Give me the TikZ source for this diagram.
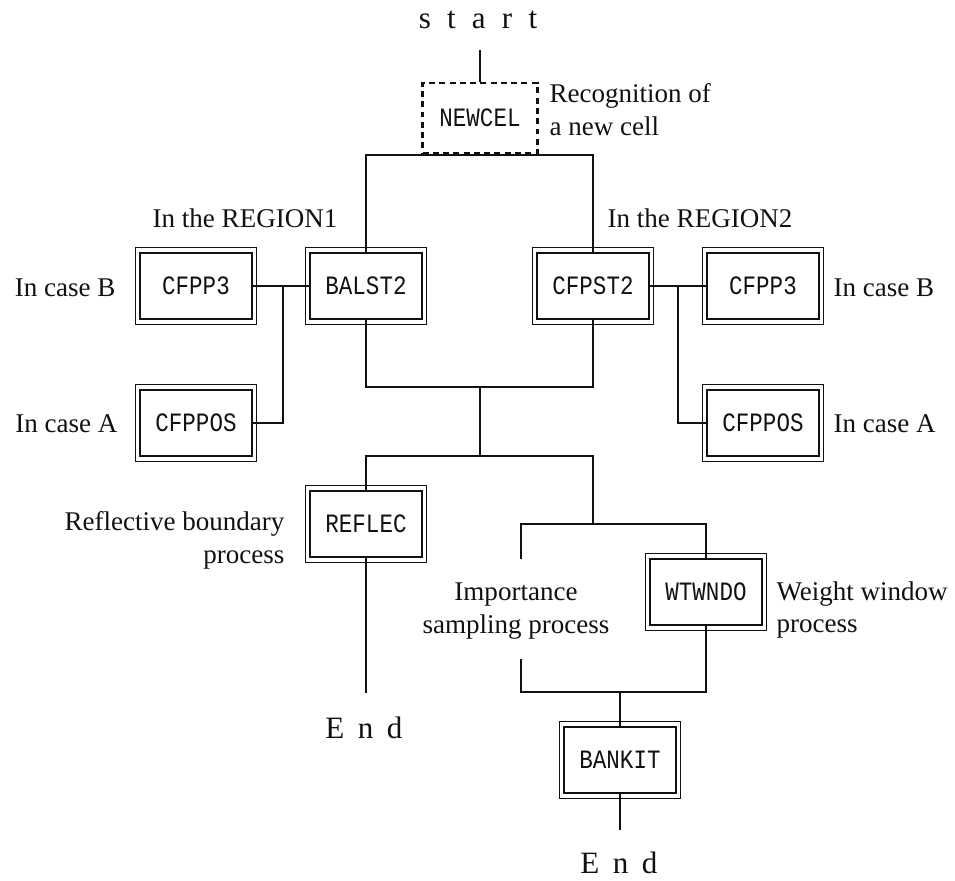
\documentclass[tikz,border=0pt]{standalone}
\usepackage{fontspec}
\setmainfont{Liberation Serif}
\newfontfamily\unitfont[FakeStretch=0.85]{Liberation Mono}
\usepackage{xcolor}
\definecolor{flowink}{HTML}{111111}
\tikzset{
  unit/.style={draw=flowink, line width=0.8pt, minimum width=41.2pt, minimum height=24.5pt,
    inner sep=0pt, text=flowink, font=\unitfont\fontsize{9.8}{11}\selectfont},
  newbox/.style={unit, dash pattern=on 2.2pt off 1.6pt, minimum width=42.5pt, minimum height=26pt},
  note/.style={inner sep=0pt, text=flowink, font=\fontsize{10}{12.2}\selectfont},
  tip/.style={inner sep=0pt, text=flowink, font=\fontsize{11.5}{13}\selectfont},
  wire/.style={draw=flowink, line width=0.6pt}
}
\newcommand{\outerframe}[1]{%
  \draw[flowink, line width=0.4pt] ([shift={(-1.45pt,1.45pt)}]#1.north west)
    rectangle ([shift={(1.45pt,-1.45pt)}]#1.south east);
}

\begin{document}
\begin{tikzpicture}[x=0.37pt, y=-0.37pt]
  \useasboundingbox (0,0) rectangle (955,881);

  % boxes
  \node[newbox] (newcel) at (480,118) {NEWCEL};
  \node[unit] (balst2)  at (366,286) {BALST2};
  \node[unit] (cfpst2)  at (593,286) {CFPST2};
  \node[unit] (cfpp3L)  at (196,286) {CFPP3};
  \node[unit] (cfpposL) at (196,423) {CFPPOS};
  \node[unit] (cfpp3R)  at (763,286) {CFPP3};
  \node[unit] (cfpposR) at (763,423) {CFPPOS};
  \node[unit] (reflec)  at (366,524) {REFLEC};
  \node[unit] (wtwndo)  at (706,592) {WTWNDO};
  \node[unit] (bankit)  at (620,760) {BANKIT};
  \foreach \n in {balst2,cfpst2,cfpp3L,cfpposL,cfpp3R,cfpposR,reflec,wtwndo,bankit}
    {\outerframe{\n}}

  % texts
  \node[tip] (start) at (478,20) {s\hspace{6pt}t\hspace{6pt}a\hspace{6pt}r\hspace{6pt}t};
  \node[tip] (endL) at (364,728) {E\hspace{5pt}n\hspace{5pt}d};
  \node[tip] (endR) at (619,863) {E\hspace{5pt}n\hspace{5pt}d};
  \node[note, anchor=west, align=left] (recog) at (549,110) {Recognition of\\a new cell};
  \node[note] (region1) at (245,218) {In the REGION1};
  \node[note] (region2) at (700,218) {In the REGION2};
  \node[note, anchor=east] (caseBL) at (116,288) {In case B};
  \node[note, anchor=east] (caseAL) at (118,424) {In case A};
  \node[note, anchor=west] (caseBR) at (833,288) {In case B};
  \node[note, anchor=west] (caseAR) at (833,424) {In case A};
  \node[note, anchor=east, align=right] (reflabel) at (285,540) {Reflective boundary\\process};
  \node[note, align=center] (implabel) at (516,611) {Importance\\sampling process};
  \node[note, anchor=west, align=left] (wwlabel) at (776,610) {Weight window\\process};

  % junctions and free ends
  \coordinate (startend) at (480,50);
  \coordinate (split1) at (480,155);
  \coordinate (jL) at (283,286);
  \coordinate (jR) at (678,286);
  \coordinate (merge1) at (480,387);
  \coordinate (split2) at (480,456);
  \coordinate (split3) at (593,524);
  \coordinate (isend) at (521,559);
  \coordinate (istop) at (521,659);
  \coordinate (merge2) at (620,692);
  \coordinate (reflend) at (366,693);
  \coordinate (bankend) at (620,830);

  % connectors
  \draw[wire] (startend) -- (newcel.north);
  \draw[wire] (newcel.south) -- (split1);
  \draw[wire] (balst2.north) |- (split1) -| (cfpst2.north);
  \draw[wire] (cfpp3L.east) -- (balst2.west);
  \draw[wire] (cfpposL.east) -| (jL);
  \draw[wire] (cfpst2.east) -- (cfpp3R.west);
  \draw[wire] (cfpposR.west) -| (jR);
  \draw[wire] (balst2.south) |- (merge1) -| (cfpst2.south);
  \draw[wire] (merge1) -- (split2);
  \draw[wire] (reflec.north) |- (split2) -| (split3);
  \draw[wire] (isend) |- (split3) -| (wtwndo.north);
  \draw[wire] (reflec.south) -- (reflend);
  \draw[wire] (istop) |- (merge2) -| (wtwndo.south);
  \draw[wire] (merge2) -- (bankit.north);
  \draw[wire] (bankit.south) -- (bankend);

\end{tikzpicture}
\end{document}
